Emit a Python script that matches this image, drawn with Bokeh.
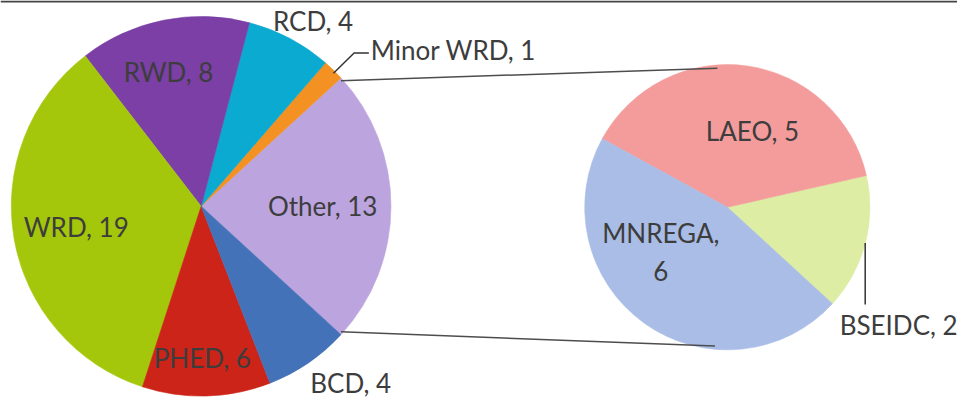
import numpy as np
from bokeh.plotting import figure
from bokeh.models import Range1d, ColumnDataSource
from bokeh.core.properties import value
from bokeh.embed import file_html
from bokeh.resources import INLINE

# ---- data ----
main_labels = ["Other", "Minor WRD", "RCD", "RWD", "WRD", "PHED", "BCD"]
main_values = [13, 1, 4, 8, 19, 6, 4]
main_colors = ["#BCA4DE", "#F39222", "#0BAAD0", "#7B3FA6", "#A4C70C", "#CC2418", "#4472B8"]

sub_labels = ["BSEIDC", "LAEO", "MNREGA"]
sub_values = [2, 5, 6]
sub_colors = ["#DDEDA4", "#F49C9C", "#AABDE6"]

# ---- layout ----
W, H = 957, 400          # figure size in pixels
RW, RH = 973, 416        # drawing frame in data units
cx1, cy1, r1 = 204, 202, 193
cx2, cy2, r2 = 739, 201, 145
FONT = value("Lato")
FSIZE = "26px"
TCOL = "#3d3d3d"

p = figure(width=W, height=H, x_range=Range1d(0, RW), y_range=Range1d(0, RH),
           output_backend="svg", toolbar_location=None, min_border=0)
p.axis.visible = False
p.grid.visible = False
p.outline_line_color = None

# thin frame line along the top edge
p.line([0, RW], [RH - 1, RH - 1], line_color="#444444", line_width=2)


def angles(vals, start):
    v = np.asarray(vals, float)
    sweep = v / v.sum() * 2 * np.pi
    ends = start + np.cumsum(sweep)
    starts = ends - sweep
    return starts, ends


start = -np.pi * main_values[0] / sum(main_values)
s1, e1 = angles(main_values, start)
s2, e2 = angles(sub_values, start)

p.wedge(x=cx1, y=cy1, radius=r1, start_angle="s", end_angle="e",
        fill_color="c", line_color="c", line_width=0.6,
        source=ColumnDataSource(dict(s=s1, e=e1, c=main_colors)))
p.wedge(x=cx2, y=cy2, radius=r2, start_angle="s", end_angle="e",
        fill_color="c", line_color="c", line_width=0.6,
        source=ColumnDataSource(dict(s=s2, e=e2, c=sub_colors)))

# connector lines from "Other" slice to the sub pie
a_top, a_bot = e1[0], s1[0]
p.line([cx1 + r1 * np.cos(a_top), cx2 + r2 * np.cos(np.radians(94))],
       [cy1 + r1 * np.sin(a_top), cy2 + r2 * np.sin(np.radians(94))],
       line_color="#4d4d4d", line_width=1.5)
p.line([cx1 + r1 * np.cos(a_bot), cx2 + r2 * np.cos(np.radians(265))],
       [cy1 + r1 * np.sin(a_bot), cy2 + r2 * np.sin(np.radians(265))],
       line_color="#4d4d4d", line_width=1.5)

# label placement (radius fraction, angle nudge in degrees)
main_pos = {"Other": (0.64, 0), "RCD": (1.157, -2.8), "RWD": (0.745, 1.9),
            "WRD": (0.668, 0), "PHED": (0.82, -1.2), "BCD": (1.237, 5.2)}
sub_pos = {"LAEO": (0.576, -9.9), "MNREGA": (0.565, -20)}

lx, ly, lt = [], [], []
for lab, v, s, e in zip(main_labels, main_values, s1, e1):
    if lab in main_pos:
        f, d = main_pos[lab]
        m = (s + e) / 2 + np.radians(d)
        lx.append(cx1 + f * r1 * np.cos(m))
        ly.append(cy1 + f * r1 * np.sin(m))
        lt.append(f"{lab}, {v}")
for lab, v, s, e in zip(sub_labels, sub_values, s2, e2):
    if lab in sub_pos:
        f, d = sub_pos[lab]
        m = (s + e) / 2 + np.radians(d)
        lx.append(cx2 + f * r2 * np.cos(m))
        ly.append(cy2 + f * r2 * np.sin(m))
        lt.append(f"{lab},\n{v}" if lab == "MNREGA" else f"{lab}, {v}")

p.text(x=lx, y=ly, text=lt, text_font=FONT, text_font_size=FSIZE,
       text_color=TCOL, text_align="center", text_baseline="middle",
       text_line_height=1.2)

# leader for Minor WRD
i = main_labels.index("Minor WRD")
m = (s1[i] + e1[i]) / 2
x0, y0 = cx1 + r1 * np.cos(m), cy1 + r1 * np.sin(m)
xs = [x0, x0 + 21, x0 + 36]
ys = [y0, y0 + 21, y0 + 21]
p.line(xs, ys, line_color="#333333", line_width=1.5)
p.text(x=[xs[-1] + 2], y=[ys[-1] + 3.5], text=[f"Minor WRD, {main_values[i]}"],
       text_font=FONT, text_font_size=FSIZE, text_color=TCOL,
       text_align="left", text_baseline="middle")

# leader for BSEIDC
j = sub_labels.index("BSEIDC")
m = (s2[j] + e2[j]) / 2
x0, y0 = cx2 + r2 * np.cos(m), cy2 + r2 * np.sin(m)
p.line([x0, x0], [y0, y0 - 64], line_color="#333333", line_width=1.5)
p.text(x=[x0 + 34], y=[y0 - 85], text=[f"BSEIDC, {sub_values[j]}"],
       text_font=FONT, text_font_size=FSIZE, text_color=TCOL,
       text_align="center", text_baseline="middle")

open("out.html", "w").write(file_html(p, INLINE))
